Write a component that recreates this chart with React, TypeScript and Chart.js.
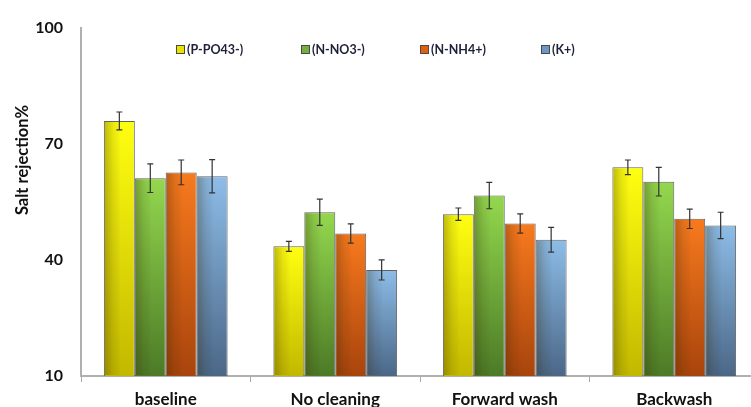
import { useEffect, useRef } from "react";
import { Chart, registerables } from "chart.js";

Chart.register(...registerables);

// Treatments along the x axis
const categories = ["baseline", "No cleaning", "Forward wash", "Backwash"];

// Ion series (salt rejection %, mean and ± error)
const seriesNames = ["(P-PO43-)", "(N-NO3-)", "(N-NH4+)", "(K+)"];
const phosphate = [75.9, 43.5, 51.8, 63.9];
const phosphateErr = [2.3, 1.3, 1.6, 1.9];
const nitrate = [61.1, 52.3, 56.6, 60.2];
const nitrateErr = [3.7, 3.4, 3.4, 3.7];
const ammonium = [62.6, 46.8, 49.4, 50.6];
const ammoniumErr = [3.2, 2.5, 2.5, 2.5];
const potassium = [61.6, 37.4, 45.2, 48.9];
const potassiumErr = [4.3, 2.6, 3.2, 3.4];

// Axis range and ticks
const yMin = 10;
const yMax = 100;
const yStep = 30;

const FONT = "Lato, 'Open Sans', 'DejaVu Sans', sans-serif";

// top / bottom colours of each bar's vertical gradient, plus legend swatch
const palette = [
  { top: "#ffff10", bottom: "#c2b800", swatch: "#e8e400" },
  { top: "#94d84e", bottom: "#4c7a26", swatch: "#74b03c" },
  { top: "#f87a1e", bottom: "#a8440c", swatch: "#e0600f" },
  { top: "#8dbde8", bottom: "#4b6787", swatch: "#6e98c4" },
];

const values = [phosphate, nitrate, ammonium, potassium];
const errors = [phosphateErr, nitrateErr, ammoniumErr, potassiumErr];

// Error bars + left-edge shading drawn over the bars
const barDecor = {
  id: "barDecor",
  afterDatasetsDraw(chart: any) {
    const ctx = chart.ctx;
    const area = chart.chartArea;
    const yScale = chart.scales.y;
    chart.data.datasets.forEach((ds: any, di: number) => {
      const meta = chart.getDatasetMeta(di);
      meta.data.forEach((bar: any, i: number) => {
        const { x, y, width } = bar.getProps(["x", "y", "width"], true);
        const bottom = area.bottom;
        const left = x - width / 2;
        // darkening toward the left edge of the bar
        const g = ctx.createLinearGradient(left, 0, left + width, 0);
        g.addColorStop(0, "rgba(50,35,0,0.32)");
        g.addColorStop(0.3, "rgba(50,35,0,0.10)");
        g.addColorStop(0.55, "rgba(0,0,0,0)");
        g.addColorStop(1, "rgba(0,0,0,0)");
        ctx.save();
        ctx.fillStyle = g;
        ctx.fillRect(left + 1, y + 1, width - 2, bottom - y - 2);
        ctx.restore();

        const v = ds.data[i];
        const e = errors[di][i];
        const yTop = yScale.getPixelForValue(v + e);
        const yBot = yScale.getPixelForValue(v - e);
        ctx.save();
        ctx.strokeStyle = "#333333";
        ctx.lineWidth = 1.2;
        ctx.beginPath();
        ctx.moveTo(x, yTop);
        ctx.lineTo(x, yBot);
        ctx.moveTo(x - 3, yTop);
        ctx.lineTo(x + 3, yTop);
        ctx.moveTo(x - 3, yBot);
        ctx.lineTo(x + 3, yBot);
        ctx.stroke();
        ctx.restore();
      });
    });
  },
};

// Legend row and rotated axis title
const legendOffsets = [176, 301, 420, 541];
const overlayText = {
  id: "overlayText",
  afterDraw(chart: any) {
    const ctx = chart.ctx;
    ctx.save();
    ctx.font = `bold 12.5px ${FONT}`;
    ctx.textBaseline = "middle";
    ctx.textAlign = "left";
    seriesNames.forEach((name, i) => {
      const lx = legendOffsets[i];
      const ly = 49;
      ctx.fillStyle = palette[i].swatch;
      ctx.fillRect(lx, ly - 4, 8, 8);
      ctx.strokeStyle = "#4a4a4a";
      ctx.lineWidth = 1;
      ctx.strokeRect(lx + 0.5, ly - 3.5, 8, 8);
      ctx.fillStyle = "#1f2138";
      ctx.fillText(name, lx + 11, ly + 1);
    });

    ctx.translate(23, 160);
    ctx.rotate(-Math.PI / 2);
    ctx.font = `bold 16.5px ${FONT}`;
    ctx.textAlign = "center";
    ctx.fillStyle = "#111111";
    ctx.fillText("Salt rejection%", 0, 0);
    ctx.restore();
  },
};

function barGradient(index: number) {
  return (ctx: any) => {
    const chart = ctx.chart;
    const area = chart.chartArea;
    if (!area || ctx.type !== "data") return palette[index].top;
    const yScale = chart.scales.y;
    const top = yScale.getPixelForValue(ctx.raw);
    const bottom = yScale.getPixelForValue(yMin);
    if (!isFinite(top) || bottom - top < 1) return palette[index].top;
    const g = chart.ctx.createLinearGradient(0, top, 0, bottom);
    g.addColorStop(0, palette[index].top);
    g.addColorStop(1, palette[index].bottom);
    return g;
  };
}

export default function App() {
  const canvasRef = useRef<HTMLCanvasElement | null>(null);

  useEffect(() => {
    if (!canvasRef.current) return;
    const chart = new Chart(canvasRef.current, {
      type: "bar",
      data: {
        labels: categories,
        datasets: values.map((data, i) => ({
          label: seriesNames[i],
          data,
          backgroundColor: barGradient(i),
          borderColor: "rgba(70,70,70,0.85)",
          borderWidth: 1,
          categoryPercentage: 0.73,
          barPercentage: 1.0,
        })),
      },
      options: {
        animation: false,
        responsive: true,
        maintainAspectRatio: false,
        layout: { padding: { top: 23, right: 11, left: 0, bottom: 0 } },
        plugins: {
          legend: { display: false },
          tooltip: { enabled: false },
        },
        scales: {
          x: {
            grid: {
              display: true,
              offset: true,
              drawOnChartArea: false,
              drawTicks: true,
              tickLength: 6,
              color: "#a8a8a8",
              lineWidth: 1,
            },
            border: { display: true, color: "#b0b0b0", width: 2 },
            ticks: {
              color: "#111111",
              font: { family: FONT, weight: "bold", size: 17 },
              padding: 7,
            },
            afterFit: (s: any) => {
              s.height = 31;
            },
          },
          y: {
            min: yMin,
            max: yMax,
            grid: { display: false, drawTicks: false },
            border: { display: true, color: "#b0b0b0", width: 2 },
            ticks: {
              stepSize: yStep,
              color: "#111111",
              font: { family: FONT, weight: "bold", size: 16 },
              padding: 18,
            },
            afterFit: (s: any) => {
              s.width = 81;
            },
          },
        },
      },
      plugins: [barDecor, overlayText],
    });
    return () => chart.destroy();
  }, []);

  return (
    <div
      style={{
        position: "fixed",
        left: 0,
        top: 0,
        width: 770,
        height: 407,
        background: "#ffffff",
      }}
    >
      <canvas ref={canvasRef} />
    </div>
  );
}
